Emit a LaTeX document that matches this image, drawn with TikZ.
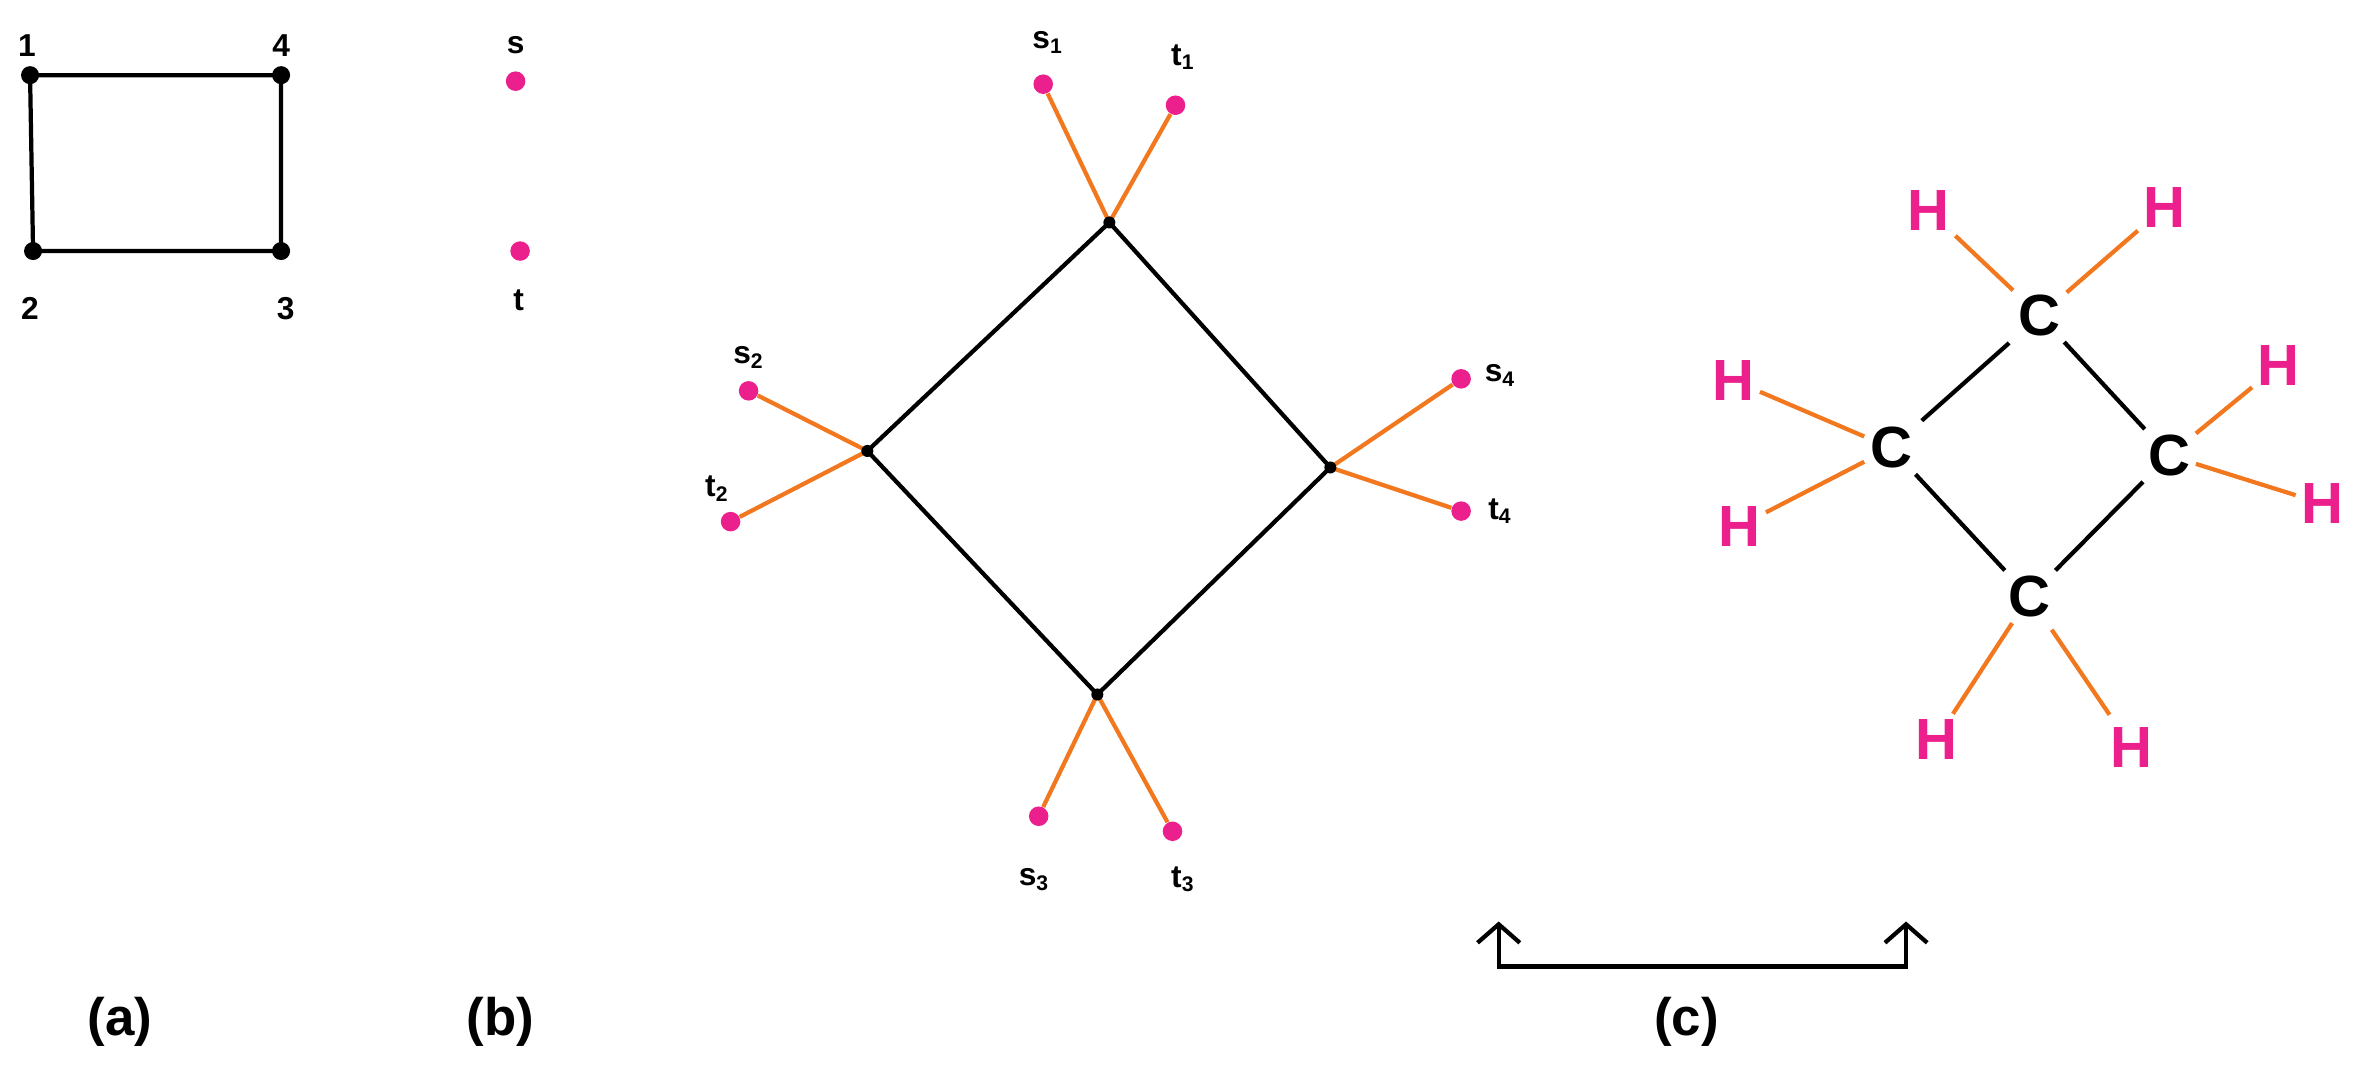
\documentclass[tikz,border=0pt]{standalone}
\usepackage{fontspec}
\setmainfont{Liberation Sans}
\usetikzlibrary{arrows.meta}
\definecolor{pinkc}{RGB}{236,32,140}
\definecolor{orangec}{RGB}{242,120,32}
\begin{document}
\begin{tikzpicture}[x=0.02cm,y=-0.02cm,
  blk/.style={line width=1.6pt,black},
  org/.style={line width=1.6pt,orangec},
  bdot/.style={circle,fill=black,inner sep=0pt,minimum size=0.24cm},
  sdot/.style={circle,fill=black,inner sep=0pt,minimum size=0.16cm},
  pdot/.style={circle,fill=pinkc,inner sep=0pt,minimum size=0.26cm},
  lab/.style={font=\bfseries\fontsize{12}{14}\selectfont},
  captxt/.style={font=\bfseries\fontsize{20}{24}\selectfont},
  atom/.style={font=\bfseries\fontsize{22}{26}\selectfont,inner sep=2pt},
  hatom/.style={atom,text=pinkc}]
\useasboundingbox (0,0) rectangle (1568,711);
% (a)
\node[bdot] (n1) at (20,50) {};
\node[bdot] (n4) at (187,50) {};
\node[bdot] (n2) at (22,167) {};
\node[bdot] (n3) at (187,167) {};
\draw[blk] (n1.center)--(n4.center)--(n3.center)--(n2.center)--cycle;
\node[lab] (l1) at (18,30) {1};
\node[lab] (l4) at (187,30) {4};
\node[lab] (l2) at (20,205) {2};
\node[lab] (l3) at (190,205) {3};
\node[captxt] (ca) at (80,680) {(a)};
% (b)
\node[pdot] (bs) at (343,54) {};
\node[pdot] (bt) at (346,167) {};
\node[lab] (lbs) at (343,30) {s};
\node[lab] (lbt) at (345,200) {t};
\node[captxt] (cb) at (333,680) {(b)};
% diamond
\coordinate (T) at (738,148);
\coordinate (L) at (577,300);
\coordinate (R) at (885,311);
\coordinate (B) at (730,462);
\node[pdot] (s1) at (694,56) {};
\node[pdot] (t1) at (782,70) {};
\node[pdot] (s2) at (498,260) {};
\node[pdot] (t2) at (486,347) {};
\node[pdot] (s4) at (972,252) {};
\node[pdot] (t4) at (972,340) {};
\node[pdot] (s3) at (691,543) {};
\node[pdot] (t3) at (780,553) {};
\draw[org] (T)--(s1) (T)--(t1) (L)--(s2) (L)--(t2) (R)--(s4) (R)--(t4) (B)--(s3) (B)--(t3);
\draw[blk] (T)--(R)--(B)--(L)--cycle;
\foreach \p in {T,L,R,B} \node[sdot] at (\p) {};
\node[lab] (ls1) at (697,28) {s$_{\mathbf 1}$};
\node[lab] (lt1) at (787,38) {t$_{\mathbf 1}$};
\node[lab] (ls2) at (498,238) {s$_{\mathbf 2}$};
\node[lab] (lt2) at (477,325) {t$_{\mathbf 2}$};
\node[lab] (ls4) at (998,250) {s$_{\mathbf 4}$};
\node[lab] (lt4) at (998,340) {t$_{\mathbf 4}$};
\node[lab] (ls3) at (688,585) {s$_{\mathbf 3}$};
\node[lab] (lt3) at (787,585) {t$_{\mathbf 3}$};
% (c)
\node[atom] (Ct) at (1357,210) {C};
\node[atom] (Cl) at (1258,298) {C};
\node[atom] (Cr) at (1443,303) {C};
\node[atom] (Cb) at (1350,397) {C};
\draw[blk,shorten <=2pt,shorten >=2pt] (Ct)--(Cr) (Cr)--(Cb) (Cb)--(Cl) (Cl)--(Ct);
\node[hatom] (H1) at (1283,140) {H};
\node[hatom] (H2) at (1440,138) {H};
\node[hatom] (H3) at (1153,253) {H};
\node[hatom] (H4) at (1157,350) {H};
\node[hatom] (H5) at (1516,243) {H};
\node[hatom] (H6) at (1545,335) {H};
\node[hatom] (H7) at (1288,492) {H};
\node[hatom] (H8) at (1418,497) {H};
\draw[org,shorten <=3pt,shorten >=3pt] (Ct)--(H1) (Ct)--(H2) (Cl)--(H3) (Cl)--(H4) (Cr)--(H5) (Cr)--(H6) (Cb)--(H7) (Cb)--(H8);
\coordinate (b1) at (997,613);
\coordinate (b2) at (997,643);
\coordinate (b3) at (1268,643);
\coordinate (b4) at (1268,613);
\draw[blk,{Straight Barb[length=7pt,width=16pt]}-{Straight Barb[length=7pt,width=16pt]}] (b1)--(b2)--(b3)--(b4);
\node[captxt] (cc) at (1122,680) {(c)};
\end{tikzpicture}
\end{document}
